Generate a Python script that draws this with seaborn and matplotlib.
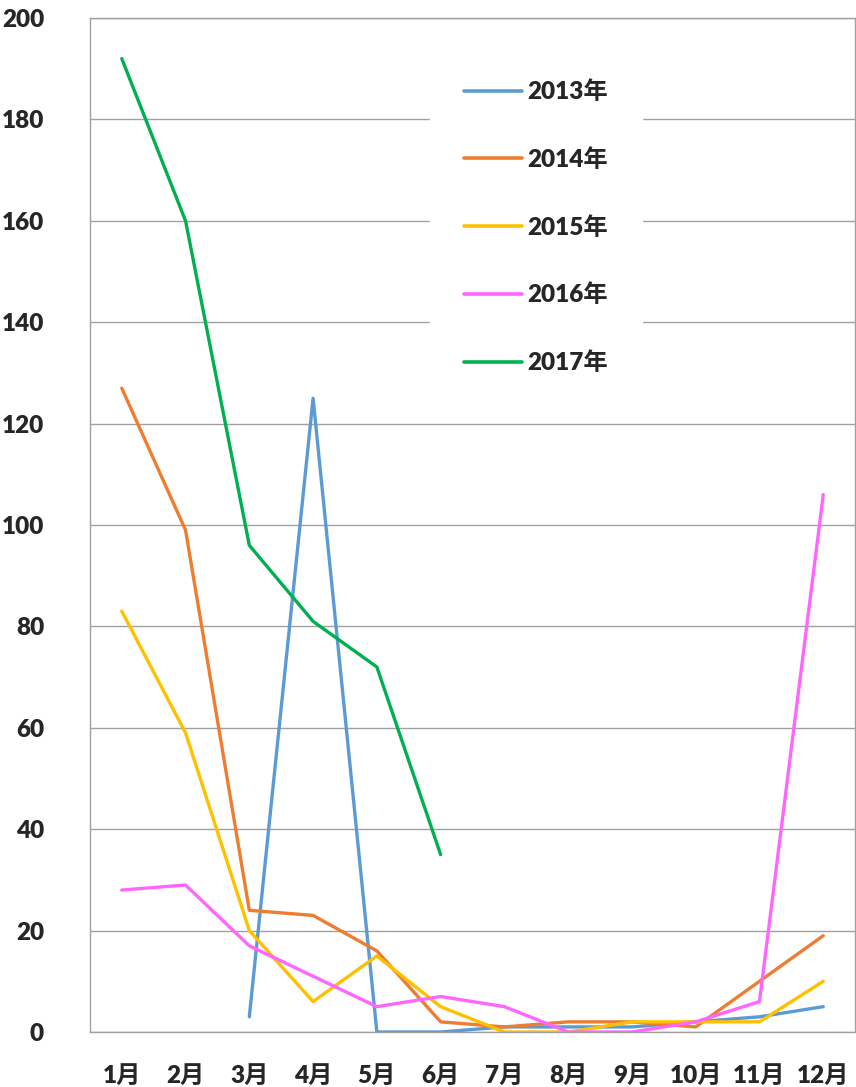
import numpy as np
import pandas as pd
import seaborn as sns
import matplotlib.pyplot as plt

meses = ["1月", "2月", "3月", "4月", "5月", "6月", "7月", "8月", "9月", "10月", "11月", "12月"]
anios = ["2013年", "2014年", "2015年", "2016年", "2017年"]

v2013 = [np.nan, np.nan, 3, 125, 0, 0, 1, 1, 1, 2, 3, 5]
v2014 = [127, 99, 24, 23, 16, 2, 1, 2, 2, 1, 10, 19]
v2015 = [83, 59, 20, 6, 15, 5, 0, 0, 2, 2, 2, 10]
v2016 = [28, 29, 17, 11, 5, 7, 5, 0, 0, 2, 6, 106]
v2017 = [192, 160, 96, 81, 72, 35, np.nan, np.nan, np.nan, np.nan, np.nan, np.nan]

colores = ["#5B9BD5", "#ED7D31", "#FFC000", "#FF66FF", "#00B050"]

filas = []
for anio, valores in zip(anios, [v2013, v2014, v2015, v2016, v2017]):
    for i, (mes, v) in enumerate(zip(meses, valores)):
        filas.append({"pos": i, "mes": mes, "anio": anio, "valor": v})
df = pd.DataFrame(filas).dropna()

sns.set_style("white")
plt.rcParams["font.family"] = ["Lato", "Noto Sans CJK SC", "DejaVu Sans"]
plt.rcParams["font.weight"] = "bold"

fig = plt.figure(figsize=(8.56, 10.87), dpi=100)
ax = fig.add_axes([0.105, 0.0506, 0.894, 0.9328])

sns.lineplot(data=df, x="pos", y="valor", hue="anio", hue_order=anios,
             palette=colores, linewidth=2.4, ax=ax)

ax.set_xlim(-0.5, len(meses) - 0.5)
ax.set_xticks(range(len(meses)))
ax.set_xticklabels(meses)
ax.set_ylim(0, 200)
ax.set_yticks(range(0, 201, 20))
ax.yaxis.grid(True, color="#A0A0A0", linewidth=1)
ax.set_axisbelow(True)
for s in ax.spines.values():
    s.set_color("#A0A0A0")
    s.set_linewidth(1)
ax.tick_params(axis="both", length=0, labelsize=17.5)
ax.tick_params(axis="x", pad=24)
ax.tick_params(axis="y", pad=33)
for t in ax.get_xticklabels() + ax.get_yticklabels():
    t.set_fontweight("heavy")
ax.set_xlabel("")
ax.set_ylabel("")

leg = ax.legend(loc="upper left", bbox_to_anchor=(0.444, 0.972), borderaxespad=0,
                frameon=True, facecolor="white", edgecolor="white", framealpha=1,
                labelspacing=1.85, handlelength=2.4, handletextpad=0.2,
                borderpad=1.4, prop={"weight": "heavy", "size": 17.5})
for l in leg.get_lines():
    l.set_linewidth(2.6)

fig.savefig("out.png", dpi=100)
